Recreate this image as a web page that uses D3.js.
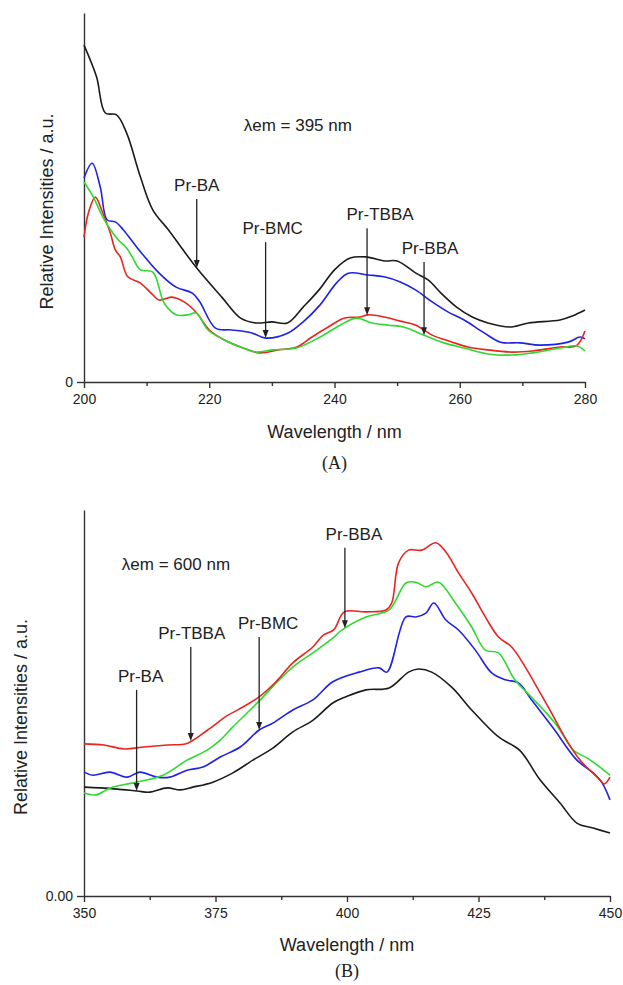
<!DOCTYPE html>
<html lang="en">
<head>
  <meta charset="UTF-8">
  <title>Excitation spectra - Pr complexes</title>
  <script src="https://d3js.org/d3.v7.min.js"></script>
  <style>
    body {
      margin: 0;
      padding: 0;
      background: #fff;
      font-family: "Liberation Sans", Arial, sans-serif;
    }
    .axis path, .axis line {
      stroke: #333;
      stroke-width: 1.4;
    }
    .axis text {
      font: 14px "Liberation Sans", Arial, sans-serif;
      fill: #222;
    }
    .title {
      font: 18px "Liberation Sans", Arial, sans-serif;
      fill: #222;
    }
    .note {
      font: 17px "Liberation Sans", Arial, sans-serif;
      fill: #222;
    }
    .panel-tag {
      font: 18px "Liberation Serif", "Times New Roman", serif;
      fill: #222;
    }
    .curve {
      fill: none;
      stroke-width: 1.6;
    }
  </style>
</head>
<body>
  <script>
    // ---- panel A (λem = 395 nm) ----
    const aBlackWl = [200, 202, 203.4, 205.2, 206.8, 209, 211, 213.5, 215.6, 218, 222, 225, 227.5, 230, 232.5, 235, 237.5, 240, 242.5, 245, 248, 250, 253, 255, 257, 259.5, 262, 264.5, 268, 271, 276, 278, 280];
    const aBlackVal = [0.913, 0.827, 0.729, 0.724, 0.675, 0.556, 0.466, 0.412, 0.363, 0.309, 0.230, 0.173, 0.160, 0.163, 0.160, 0.203, 0.249, 0.304, 0.336, 0.339, 0.328, 0.328, 0.295, 0.276, 0.241, 0.203, 0.176, 0.160, 0.149, 0.160, 0.168, 0.179, 0.195];

    const aBlueWl = [200, 201.3, 202.6, 203.7, 205, 206.3, 208.4, 212, 214.7, 217.3, 218.5, 221, 223.6, 226.8, 229, 232.6, 235, 237.7, 240.3, 242.2, 245.4, 247.9, 250.5, 253, 255.6, 258.1, 260.7, 263.9, 266.5, 269.6, 272.8, 277.3, 279.2, 280];
    const aBlueVal = [0.553, 0.593, 0.528, 0.439, 0.434, 0.412, 0.366, 0.295, 0.257, 0.241, 0.217, 0.146, 0.141, 0.133, 0.119, 0.133, 0.163, 0.209, 0.268, 0.295, 0.290, 0.285, 0.271, 0.249, 0.217, 0.190, 0.168, 0.133, 0.108, 0.106, 0.100, 0.108, 0.122, 0.117];

    const aRedWl = [200, 200.7, 201.8, 203, 204.2, 205, 205.8, 207, 209, 211, 212, 214, 216, 218, 220, 222.4, 225, 228, 231, 234, 236.4, 239, 241.5, 244, 245.4, 248, 250.5, 253, 255.6, 258.8, 261.3, 264.5, 268.4, 271.6, 276, 278.6, 280];
    const aRedVal = [0.393, 0.458, 0.501, 0.458, 0.404, 0.358, 0.339, 0.285, 0.268, 0.236, 0.222, 0.230, 0.217, 0.187, 0.141, 0.114, 0.095, 0.079, 0.087, 0.095, 0.122, 0.149, 0.173, 0.176, 0.182, 0.176, 0.165, 0.154, 0.127, 0.108, 0.095, 0.087, 0.081, 0.084, 0.095, 0.098, 0.138];

    const aGreenWl = [200, 201.5, 203, 204.6, 205.5, 206.8, 207.7, 209, 211, 212.8, 214.7, 216.6, 217.9, 219.8, 222.4, 225, 227.5, 230, 233.9, 237.7, 240.9, 243.5, 246, 248.6, 251, 254.3, 257.5, 260.7, 264.5, 268.4, 271.6, 276, 278.6, 280];
    const aGreenVal = [0.542, 0.501, 0.447, 0.404, 0.385, 0.363, 0.339, 0.304, 0.298, 0.214, 0.182, 0.182, 0.187, 0.141, 0.114, 0.095, 0.081, 0.087, 0.092, 0.122, 0.154, 0.173, 0.160, 0.154, 0.149, 0.127, 0.106, 0.092, 0.076, 0.073, 0.079, 0.092, 0.098, 0.084];

    // ---- panel B (λem = 600 nm) ----
    const bBlackWl = [350, 353, 356.3, 360.1, 362.5, 365.8, 368.3, 370.7, 374.5, 378.3, 382.1, 385.9, 389.7, 393.5, 397.3, 399.8, 403.6, 408, 411.7, 413.6, 416.1, 419.9, 423.7, 428.8, 432.8, 436.7, 440.5, 443.7, 446.8, 450];
    const bBlackVal = [0.282, 0.280, 0.277, 0.272, 0.269, 0.280, 0.275, 0.282, 0.295, 0.319, 0.352, 0.383, 0.425, 0.455, 0.500, 0.516, 0.534, 0.539, 0.580, 0.588, 0.580, 0.541, 0.482, 0.412, 0.378, 0.301, 0.241, 0.189, 0.176, 0.163];

    const bRedWl = [350, 353.8, 357.6, 361.4, 365.9, 369.7, 373.5, 377.3, 379.5, 383.3, 386.5, 389.7, 393.5, 395.5, 397.5, 399.5, 403.6, 407.4, 408.5, 409.8, 411.7, 414.2, 416.9, 418.8, 421.2, 423.7, 426.3, 428.8, 431.3, 433.9, 436.4, 438.9, 441.5, 444.3, 448.1, 448.9, 450];
    const bRedVal = [0.394, 0.391, 0.381, 0.386, 0.391, 0.396, 0.430, 0.468, 0.484, 0.516, 0.555, 0.604, 0.645, 0.676, 0.690, 0.736, 0.736, 0.741, 0.759, 0.863, 0.896, 0.896, 0.915, 0.891, 0.837, 0.785, 0.723, 0.671, 0.645, 0.593, 0.534, 0.474, 0.409, 0.352, 0.301, 0.290, 0.308];

    const bGreenWl = [350, 352.3, 355, 360, 365, 369.6, 373.4, 375.9, 378.3, 381, 383.5, 386.7, 389.7, 393.5, 397.3, 399, 403.6, 408, 411.2, 413.1, 415, 417.4, 420.6, 423.7, 426.3, 428.8, 431.9, 435, 437.5, 440, 443, 445.6, 448.1, 450];
    const bGreenVal = [0.267, 0.262, 0.280, 0.295, 0.313, 0.352, 0.378, 0.404, 0.438, 0.474, 0.508, 0.554, 0.593, 0.630, 0.668, 0.689, 0.723, 0.741, 0.811, 0.813, 0.801, 0.813, 0.759, 0.697, 0.637, 0.630, 0.560, 0.516, 0.480, 0.440, 0.378, 0.358, 0.334, 0.313];

    const bBlueWl = [350, 351.7, 354.9, 358.2, 360.6, 363.9, 366.3, 369.6, 372.6, 375.9, 379.7, 383.3, 385.9, 389.7, 393.5, 397.3, 402.3, 406.1, 407.6, 411.2, 413.1, 415, 416.5, 418.8, 421.2, 424.4, 427.5, 430.1, 432.6, 435.1, 439.2, 443.7, 446.8, 448.5, 450];
    const bBlueVal = [0.321, 0.313, 0.321, 0.308, 0.321, 0.308, 0.308, 0.326, 0.334, 0.360, 0.386, 0.430, 0.448, 0.482, 0.508, 0.555, 0.580, 0.591, 0.580, 0.723, 0.723, 0.733, 0.759, 0.715, 0.689, 0.637, 0.578, 0.560, 0.552, 0.508, 0.435, 0.352, 0.319, 0.293, 0.249];

    // arrows: compound, wavelength, value where the arrow starts
    const aNotes = [
      { name: "Pr-BA", wl: 218, from: 0.496, series: "black" },
      { name: "Pr-BMC", wl: 229, from: 0.379, series: "blue" },
      { name: "Pr-TBBA", wl: 245.2, from: 0.417, series: "red" },
      { name: "Pr-BBA", wl: 254.3, from: 0.325, series: "green" }
    ];
    const bNotes = [
      { name: "Pr-BA", wl: 360, from: 0.534, series: "black" },
      { name: "Pr-TBBA", wl: 370.3, from: 0.645, series: "red" },
      { name: "Pr-BMC", wl: 383.3, from: 0.671, series: "blue" },
      { name: "Pr-BBA", wl: 399.6, from: 0.902, series: "green" }
    ];

    const aTicks = [200, 220, 240, 260, 280];
    const aMinor = [210, 230, 250, 270];
    const bTicks = [350, 375, 400, 425, 450];
    const bMinor = [362.5, 387.5, 412.5, 437.5];

    const colors = { black: "#1c1c1c", red: "#e8251f", blue: "#1f22e6", green: "#2fd92f" };

    const W = 623, H = 985;
    const svg = d3.select("body").append("svg")
      .attr("width", W)
      .attr("height", H);

    function zip(wl, val) {
      return wl.map((w, i) => ({ wl: w, v: val[i] }));
    }

    function valueAt(pts, w) {
      const i = d3.bisector(d => d.wl).left(pts, w);
      if (i <= 0) return pts[0].v;
      if (i >= pts.length) return pts[pts.length - 1].v;
      const a = pts[i - 1], b = pts[i];
      const t = (w - a.wl) / (b.wl - a.wl);
      return a.v + t * (b.v - a.v);
    }

    function drawPanel(p) {
      const x = d3.scaleLinear().domain(p.xDomain).range([p.left, p.right]);
      const y = d3.scaleLinear().domain([0, 1]).range([p.bottom, p.top]);
      const g = svg.append("g");

      // axes
      g.append("g")
        .attr("class", "axis")
        .attr("transform", `translate(0,${p.bottom})`)
        .call(d3.axisBottom(x).tickValues(p.ticks).tickSize(6).tickSizeOuter(0).tickPadding(6).tickFormat(d3.format("d")));
      g.append("g")
        .attr("class", "axis")
        .attr("transform", `translate(0,${p.bottom})`)
        .call(d3.axisBottom(x).tickValues(p.minor).tickSize(4).tickSizeOuter(0).tickFormat(""))
        .select(".domain").remove();
      g.append("g")
        .attr("class", "axis")
        .attr("transform", `translate(${p.left},0)`)
        .call(d3.axisLeft(y).tickValues([0]).tickSize(7).tickSizeOuter(0).tickPadding(4).tickFormat(p.yFormat));

      // curves
      const line = d3.line()
        .x(d => x(d.wl))
        .y(d => y(d.v))
        .curve(d3.curveCatmullRom.alpha(0.5));

      const series = {};
      p.series.forEach(s => {
        const pts = zip(s.wl, s.val);
        series[s.key] = pts;
        g.append("path")
          .attr("class", "curve")
          .attr("stroke", colors[s.key])
          .attr("d", line(pts));
      });

      // arrows + labels
      p.notes.forEach(n => {
        const xp = x(n.wl);
        const y0 = y(n.from);
        const y1 = y(valueAt(series[n.series], n.wl));
        g.append("line")
          .attr("x1", xp).attr("x2", xp)
          .attr("y1", y0).attr("y2", y1 - 5)
          .attr("stroke", "#222")
          .attr("stroke-width", 1.3);
        g.append("path")
          .attr("d", `M${xp},${y1} L${xp - 3},${y1 - 8} L${xp + 3},${y1 - 8} Z`)
          .attr("fill", "#222");
        g.append("text")
          .attr("class", "note")
          .attr("x", xp + (p.noteDx[n.name] || 0))
          .attr("y", y0 - 8)
          .attr("text-anchor", "middle")
          .text(n.name);
      });

      g.append("text")
        .attr("class", "note")
        .attr("x", x(p.emAt[0]))
        .attr("y", y(p.emAt[1]))
        .text(p.emText);

      // titles
      g.append("text")
        .attr("class", "title")
        .attr("x", (p.left + p.right) / 2)
        .attr("y", p.bottom + p.titleGap)
        .attr("text-anchor", "middle")
        .text("Wavelength / nm");
      g.append("text")
        .attr("class", "title")
        .attr("transform", `translate(${p.yTitleX},${(p.top + p.bottom) / 2 + 14}) rotate(-90)`)
        .attr("text-anchor", "middle")
        .text("Relative Intensities / a.u.");
      g.append("text")
        .attr("class", "panel-tag")
        .attr("x", (p.left + p.right) / 2)
        .attr("y", p.bottom + p.tagGap)
        .attr("text-anchor", "middle")
        .text(p.tag);
    }

    drawPanel({
      xDomain: [200, 280], left: 84, right: 585, top: 13, bottom: 382,
      ticks: aTicks, minor: aMinor, yFormat: d3.format("d"),
      series: [
        { key: "black", wl: aBlackWl, val: aBlackVal },
        { key: "blue", wl: aBlueWl, val: aBlueVal },
        { key: "red", wl: aRedWl, val: aRedVal },
        { key: "green", wl: aGreenWl, val: aGreenVal }
      ],
      notes: aNotes,
      noteDx: { "Pr-BA": 0, "Pr-BMC": 7, "Pr-TBBA": 13, "Pr-BBA": 6 },
      emText: "λem = 395 nm", emAt: [225.5, 0.681],
      yTitleX: 53, tag: "(A)", titleGap: 56, tagGap: 87
    });

    drawPanel({
      xDomain: [350, 450], left: 84, right: 610, top: 510, bottom: 896,
      ticks: bTicks, minor: bMinor, yFormat: d3.format(".2f"),
      series: [
        { key: "black", wl: bBlackWl, val: bBlackVal },
        { key: "blue", wl: bBlueWl, val: bBlueVal },
        { key: "green", wl: bGreenWl, val: bGreenVal },
        { key: "red", wl: bRedWl, val: bRedVal }
      ],
      notes: bNotes,
      noteDx: { "Pr-BA": 4, "Pr-TBBA": 1, "Pr-BMC": 9, "Pr-BBA": 9 },
      emText: "λem = 600 nm", emAt: [357.2, 0.845],
      yTitleX: 27, tag: "(B)", titleGap: 55, tagGap: 81
    });
  </script>
</body>
</html>
